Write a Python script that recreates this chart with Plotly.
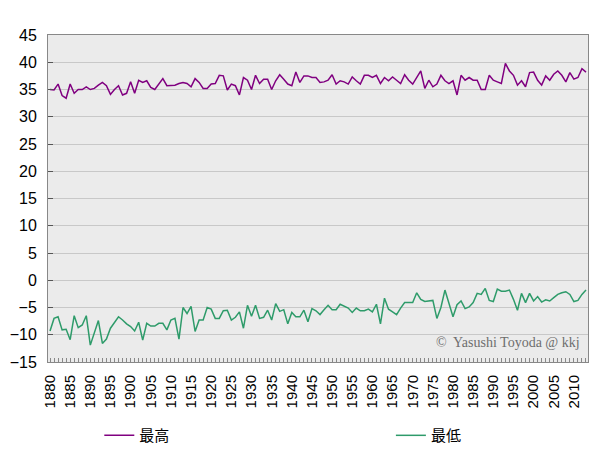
import plotly.graph_objects as go

years = list(range(1880, 2014))

max_first = [35, 34.9, 36, 33.9, 33.4, 36, 34.3, 35, 35, 35.5, 35, 35.2, 35.8, 36.3, 35.7, 34.1,
             35, 35.7, 34, 34.3, 36.4, 34.3, 36.7, 36.3, 36.6, 35.4, 35, 36.1, 37, 35.7, 35.8, 35.8,
             36.1, 36.3, 36.1, 35.5, 37, 36.3, 35.2, 35.2, 36, 36.1, 37.6, 37.5, 34.9, 36, 35.7, 34,
             37.2, 36.7, 35, 37.6, 36.1, 36.9, 36.9, 35, 36.6, 37.7, 36.9, 36, 35.7, 38.2, 36.3, 37.5,
             37.5, 37.2]
max_second = [37.2, 36.3, 36.4, 36.7, 37.7, 36, 36.6, 36.4, 36, 37.3, 36.6, 36, 37.6, 37.6, 37.2, 37.6,
              36.1, 37.2, 36.6, 37.3, 36.7, 36.1, 37.7, 36.7, 36, 37.2, 38.4, 35.2, 36.7, 35.5, 36, 37.6,
              36.6, 36.1, 36.6, 34, 37.6, 36.7, 37.2, 36.7, 36.7, 35, 35, 37.6, 36.7, 36.4, 36.1, 39.8,
              38.4, 37.6, 35.8, 36.6, 35.5, 38.1, 38.2, 36.7, 35.8, 37.5, 36.7, 37.8, 38.4, 37.6, 36.4,
              38.1, 36.9, 37.2, 38.8, 38.2]
max_temp = max_first[:66] + max_second

min_first = [-9.3, -7.0, -6.7, -9.1, -9.0, -10.9, -6.5, -8.7, -8.2, -6.5, -11.9, -9.8, -7.4, -11.6,
             -10.8, -8.8, -7.7, -6.7, -7.3, -8.0, -8.5, -9.3, -7.7, -11.0, -7.9, -8.4, -8.4, -7.9,
             -7.9, -9.1, -7.3, -7.0, -10.8, -5.0, -6.1, -4.8, -9.4, -7.3, -7.3, -5.0, -5.3, -7.0,
             -7.0, -5.6, -5.5, -7.3, -6.8, -5.8, -8.8, -4.6, -6.6, -4.6, -7.0, -6.8, -5.5, -7.3,
             -4.3, -5.7, -5.4, -8.0, -5.9, -6.7, -6.7, -5.5, -7.6, -5.2]
min_second = [-5.6, -6.3, -5.4, -4.6, -5.4, -5.4, -4.4, -4.8, -5.1, -5.9, -5.1, -5.6, -5.6, -5.3,
              -5.8, -4.4, -8.0, -3.3, -5.3, -5.8, -6.3, -5.1, -4.1, -4.1, -4.1, -2.3, -3.5, -3.9,
              -3.8, -3.7, -7.0, -5.0, -1.8, -4.4, -6.7, -4.5, -3.8, -5.2, -4.9, -4.1, -2.4, -2.6,
              -1.5, -3.7, -3.9, -1.6, -2.0, -2.0, -1.8, -3.5, -5.5, -2.4, -4.1, -2.4, -3.8, -3.0,
              -4.0, -3.6, -3.8, -3.2, -2.6, -2.3, -2.1, -2.6, -3.9, -3.7, -2.6, -1.8]
min_temp = min_first[:66] + min_second

x_tick_years = list(range(1880, 2011, 5))
y_ticks = list(range(-15, 46, 5))

fig = go.Figure()
fig.add_trace(go.Scatter(x=years, y=max_temp, mode="lines", name="最高", legend="legend",
                         line=dict(color="#800080", width=1.5)))
fig.add_trace(go.Scatter(x=years, y=min_temp, mode="lines", name="最低", legend="legend2",
                         line=dict(color="#2E9B6A", width=1.5)))

font_main = "Liberation Sans, Arial, sans-serif"
leg_font = dict(family="Noto Sans CJK JP", size=15, color="#000000")

# page body has an 8px margin, so the figure is 592x442 and sits at (8, 8)
fig.update_layout(
    width=592, height=442,
    margin=dict(l=40, r=12, t=27, b=88, autoexpand=False),
    paper_bgcolor="white",
    plot_bgcolor="#EBEBEB",
    showlegend=True,
    legend=dict(orientation="h", x=0.095, y=-0.225, xanchor="left", yanchor="middle",
                itemwidth=30, font=leg_font, bgcolor="rgba(0,0,0,0)"),
    legend2=dict(orientation="h", x=0.635, y=-0.225, xanchor="left", yanchor="middle",
                 itemwidth=30, font=leg_font, bgcolor="rgba(0,0,0,0)"),
    xaxis=dict(
        range=[1879.5, 2013.5], automargin=False,
        tickmode="array", tickvals=x_tick_years, ticktext=[str(v) for v in x_tick_years],
        tickangle=-90, ticklabelstandoff=6,
        tickfont=dict(family=font_main, size=15, color="#000000"),
        ticks="inside", ticklen=4, tickcolor="#888888",
        minor=dict(dtick=1, ticks="inside", ticklen=4, tickcolor="#888888", showgrid=False),
        showgrid=False, zeroline=False,
        showline=True, linecolor="#888888", linewidth=1, mirror=True,
    ),
    yaxis=dict(
        range=[-15, 45], automargin=False, ticklabelstandoff=7,
        tickmode="array", tickvals=y_ticks,
        tickfont=dict(family=font_main, size=16, color="#000000"),
        ticks="inside", ticklen=5, tickcolor="#555555",
        showgrid=True, gridcolor="#C8C8C8", gridwidth=1,
        zeroline=False,
        showline=True, linecolor="#888888", linewidth=1, mirror=True,
    ),
)

fig.add_annotation(text="©  Yasushi Toyoda @ kkj", xref="paper", yref="paper",
                   x=0.989, y=0.03, xanchor="right", yanchor="bottom", showarrow=False,
                   font=dict(family="Liberation Serif, DejaVu Serif, serif", size=14, color="#6E6E6E"))

fig.write_html("out.html")
